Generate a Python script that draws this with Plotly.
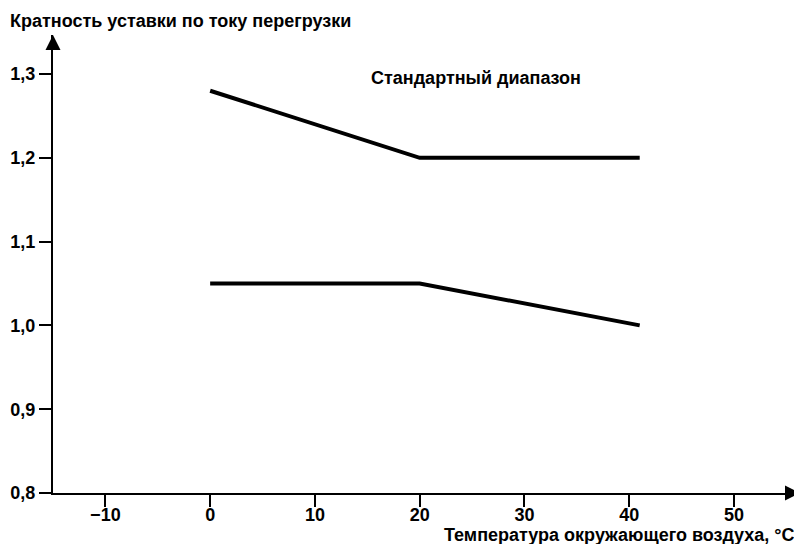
import plotly.graph_objects as go

# Data
upper_x = [0, 20, 41]
upper_y = [1.28, 1.20, 1.20]
lower_x = [0, 20, 41]
lower_y = [1.05, 1.05, 1.00]

x_ticks = [-10, 0, 10, 20, 30, 40, 50]
x_ticklabels = ["\u221210", "0", "10", "20", "30", "40", "50"]
y_ticks = [0.8, 0.9, 1.0, 1.1, 1.2, 1.3]
y_ticklabels = ["0,8", "0,9", "1,0", "1,1", "1,2", "1,3"]

x_range = [-15, 56.3]
y_range = [0.8, 1.3465]

FONT = "Liberation Sans, Arial, sans-serif"

fig = go.Figure()
for xs, ys in [(upper_x, upper_y), (lower_x, lower_y)]:
    fig.add_trace(go.Scatter(x=xs, y=ys, mode="lines",
                             line=dict(color="black", width=4),
                             showlegend=False, hoverinfo="skip"))

axis_common = dict(showgrid=False, zeroline=False, showline=True,
                   linecolor="black", linewidth=2, ticks="outside",
                   ticklen=12, tickwidth=2, tickcolor="black",
                   automargin=False,
                   tickfont=dict(size=18, family=FONT, color="black", weight="bold"))

fig.update_layout(
    width=794, height=536,
    margin=dict(l=45, r=2, t=27, b=51, autoexpand=False),
    paper_bgcolor="white", plot_bgcolor="white",
    font=dict(family=FONT, size=18, color="black"),
    xaxis=dict(range=x_range, tickvals=x_ticks, ticktext=x_ticklabels,
               ticklabelstandoff=-8, **axis_common),
    yaxis=dict(range=y_range, tickvals=y_ticks, ticktext=y_ticklabels, **axis_common),
)

# Axis arrowheads
fig.add_annotation(x=1, y=0, xref="paper", yref="paper", ax=-16, ay=0,
                   text="", showarrow=True, arrowhead=2, arrowsize=1.5,
                   arrowwidth=2, arrowcolor="black", axref="pixel", ayref="pixel")
fig.add_annotation(x=0, y=1, xref="paper", yref="paper", ax=0, ay=16,
                   text="", showarrow=True, arrowhead=2, arrowsize=1.5,
                   arrowwidth=2, arrowcolor="black", axref="pixel", ayref="pixel")

# Labels
fig.add_annotation(x=25.4, y=1.295, xref="x", yref="y",
                   text="Стандартный диапазон", showarrow=False,
                   font=dict(size=18, family=FONT, color="black", weight="bold"))
fig.add_annotation(x=0, y=1, xref="paper", yref="paper", xshift=-45, yshift=2,
                   xanchor="left", yanchor="bottom",
                   text="Кратность уставки по току перегрузки", showarrow=False,
                   font=dict(size=18, family=FONT, color="black", weight="bold"))
fig.add_annotation(x=1, y=0, xref="paper", yref="paper", yshift=-30, xshift=-3,
                   xanchor="right", yanchor="top",
                   text="Температура окружающего воздуха, °С", showarrow=False,
                   font=dict(size=18, family=FONT, color="black", weight="bold"))

fig.write_html("out.html")
